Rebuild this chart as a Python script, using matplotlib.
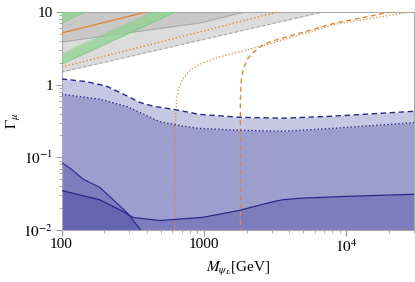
import numpy as np
import matplotlib.pyplot as plt

plt.rcParams['font.family'] = ['Liberation Serif', 'DejaVu Serif']
plt.rcParams['mathtext.fontset'] = 'stix'

# regioes azuis (M em GeV, Gamma)
m_tracejada = [100, 150, 208, 280, 355, 450, 604, 933, 1780, 3560, 7980, 30000]
g_tracejada = [1.2, 1.1, 0.95, 0.72, 0.57, 0.5, 0.46, 0.39, 0.356, 0.345, 0.368, 0.43]

m_pontilhada = [100, 186, 288, 390, 490, 700, 933, 1780, 3560, 7980, 30000]
g_pontilhada = [0.74, 0.63, 0.50, 0.38, 0.31, 0.27, 0.25, 0.236, 0.228, 0.25, 0.30]

m_solida = [100, 186, 270, 317, 490, 980, 1780, 2580, 3030, 3560, 4690, 10000, 30000]
g_solida = [0.035, 0.026, 0.018, 0.0149, 0.0135, 0.0149, 0.0186, 0.0225, 0.0243, 0.026, 0.0273, 0.029, 0.031]

m_ingreme = [100, 118, 142, 186, 288, 360]
g_ingreme = [0.085, 0.068, 0.05, 0.0386, 0.0174, 0.01]

# regioes cinzas (limite inferior)
m_cinza_claro = [100, 7980]
g_cinza_claro = [1.49, 10.7]
m_cinza_medio = [100, 933, 2197]
g_cinza_medio = [3.86, 7.05, 10.6]

# faixas verdes (centro)
m_verde1 = [100, 700]
g_verde1 = [2.25, 13.0]
m_verde2 = [100, 200]
g_verde2 = [8.3, 16.0]

# retas laranjas
m_laranja_solida = [100, 417]
g_laranja_solida = [5.13, 10.3]
m_laranja_pont = [100, 3510]
g_laranja_pont = [1.74, 10.3]

# curvas laranjas
m_curva_pont = [624, 624, 634, 644, 665, 698, 757, 834, 980, 1150, 1443, 1868, 3030, 8510, 30000]
g_curva_pont = [0.009, 0.2, 0.334, 0.63, 0.87, 1.12, 1.40, 1.69, 1.98, 2.25, 2.55, 2.90, 3.74, 6.83, 10.2]
m_curva_trac = [1807, 1807, 1837, 1897, 2024, 2193, 2380, 2540, 2890, 3566, 8510, 23500, 30000]
g_curva_trac = [0.009, 0.63, 1.19, 1.64, 2.25, 2.72, 3.09, 3.40, 3.86, 4.38, 7.1, 10.5, 12.0]

azul = (32/255, 32/255, 144/255)
linha_azul = '#26268a'
laranja = '#dd8833'

fig = plt.figure(figsize=(4.15, 2.82), dpi=100)
ax = fig.add_axes([61.5/415, 1-230/282, (414-61.5)/415, (230-12)/282])
ax.set_xscale('log')
ax.set_yscale('log')
ax.set_xlim(100, 30000)
ax.set_ylim(0.01, 10)

def interp_log(m, g, mm):
    return 10**np.interp(np.log10(mm), np.log10(m), np.log10(g))

# preenchimentos azuis
for m, g in [(m_tracejada, g_tracejada), (m_pontilhada, g_pontilhada), (m_solida, g_solida)]:
    ax.fill_between(m, 1e-3, g, color=azul, alpha=0.25, lw=0, zorder=1)
ax.fill_between(m_ingreme, 1e-3, g_ingreme, color=azul, alpha=0.25, lw=0, zorder=1)

ax.plot(m_tracejada, g_tracejada, color=linha_azul, lw=1.0, dashes=(4, 2.5), zorder=5)
ax.plot(m_pontilhada, g_pontilhada, color=linha_azul, lw=1.0, ls=':', zorder=5)
ax.plot(m_solida, g_solida, color=linha_azul, lw=0.9, zorder=5)
ax.plot(m_ingreme, g_ingreme, color=linha_azul, lw=0.8, zorder=5)

# regioes cinzas
mm = np.logspace(2, np.log10(30000), 400)
g_claro = interp_log(m_cinza_claro, g_cinza_claro, mm)
ax.fill_between(mm, g_claro, 100, color='#dcdcdc', lw=0, zorder=2)
ax.plot(mm, g_claro, color='#aaaaaa', lw=0.8, dashes=(3, 2), zorder=3)
g_medio = interp_log(m_cinza_medio, g_cinza_medio, mm)
ax.fill_between(mm, g_medio, 100, color='#909090', alpha=0.25, lw=0, zorder=2)
ax.plot(mm, g_medio, color='#a8a8a8', lw=0.7, zorder=3)

# faixas verdes
for m, g in [(m_verde1, g_verde1), (m_verde2, g_verde2)]:
    mv = np.logspace(np.log10(m[0]), np.log10(m[-1]), 100)
    gc = interp_log(m, g, mv)
    ax.fill_between(mv, gc/1.18, gc*1.18, color='#8fd48f', alpha=0.75, lw=0, zorder=3)
    ax.plot(mv, gc/1.18, color='#5cb85c', lw=0.6, ls=':', zorder=3)
    ax.plot(mv, gc*1.18, color='#5cb85c', lw=0.6, ls=':', zorder=3)

# linhas laranjas
ax.plot(m_laranja_solida, g_laranja_solida, color=laranja, lw=1.0, zorder=4)
ax.plot(m_laranja_pont, g_laranja_pont, color=laranja, lw=1.0, ls=':', zorder=4)
ax.plot(m_curva_pont, g_curva_pont, color=laranja, lw=0.9, ls=':', zorder=4)
ax.plot(m_curva_trac, g_curva_trac, color=laranja, lw=1.0, dashes=(3.5, 2.5), zorder=4)

# eixos
for s in ax.spines.values():
    s.set_color('#aaaaaa')
    s.set_linewidth(0.8)
ax.set_xticks([100, 1000, 10000])
ax.set_xticklabels(['100', '1000', '$10^4$'])
ax.set_yticks([0.01, 0.1, 1, 10])
ax.set_yticklabels(['$10^{-2}$', '$10^{-1}$', '1', '10'])
ax.tick_params(which='both', direction='out', color='#999999', labelsize=11, pad=2)
ax.tick_params(which='major', length=4)
ax.tick_params(which='minor', length=2)
ax.set_xlabel(r'$M_{\psi_L}$[GeV]', fontsize=11, labelpad=4)
ax.set_ylabel(r'$\Gamma_\mu$', fontsize=11)
ax.yaxis.set_label_coords(-0.11, 0.5)

plt.savefig('out.png', dpi=100)
